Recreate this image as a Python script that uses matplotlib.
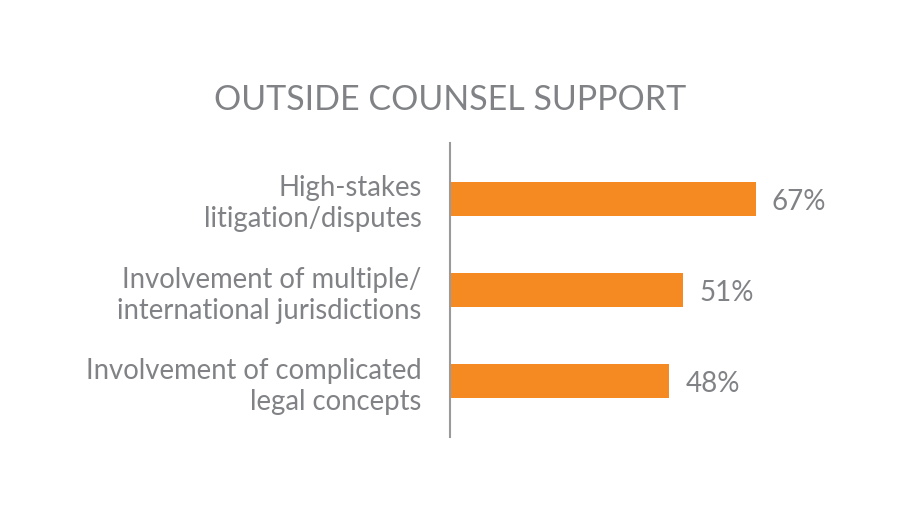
import matplotlib
matplotlib.use("Agg")
import matplotlib.pyplot as plt

categories = ["High-stakes\nlitigation/disputes",
              "Involvement of multiple/\ninternational jurisdictions",
              "Involvement of complicated\nlegal concepts"]
values = [67, 51, 48]
value_labels = ["67%", "51%", "48%"]
title = "OUTSIDE COUNSEL SUPPORT"

GRAY = "#808285"
ORANGE = "#F58A22"
plt.rcParams['font.family'] = ['Lato', 'DejaVu Sans']

fig = plt.figure(figsize=(9, 5.25), dpi=100)
ax = fig.add_axes([0.5, 0.1676, 0.455, 0.56])
y = list(range(len(categories)))
ax.barh(y, values, height=0.373, color=ORANGE, left=0.2)
ax.set_xlim(0, 90)
ax.set_ylim(2.61, -0.61)
for s in ["top", "right", "bottom"]:
    ax.spines[s].set_visible(False)
ax.spines["left"].set_color("#9a9a9a")
ax.spines["left"].set_linewidth(1.5)
ax.set_xticks([])
ax.set_yticks(y)
ax.set_yticklabels(categories, fontsize=19.8, color=GRAY, linespacing=1.25)
ax.tick_params(axis="y", length=0, pad=20.5)
for yi, v, lab in zip(y, values, value_labels):
    ax.annotate(lab, (v, yi), xytext=(17, -3), textcoords="offset pixels",
                va="center", ha="left", fontsize=20, color=GRAY)
fig.text(0.5, 1 - 100 / 525, title, ha="center", va="center", fontsize=24.5, color=GRAY)
fig.savefig("out.png", dpi=100, facecolor="white")
